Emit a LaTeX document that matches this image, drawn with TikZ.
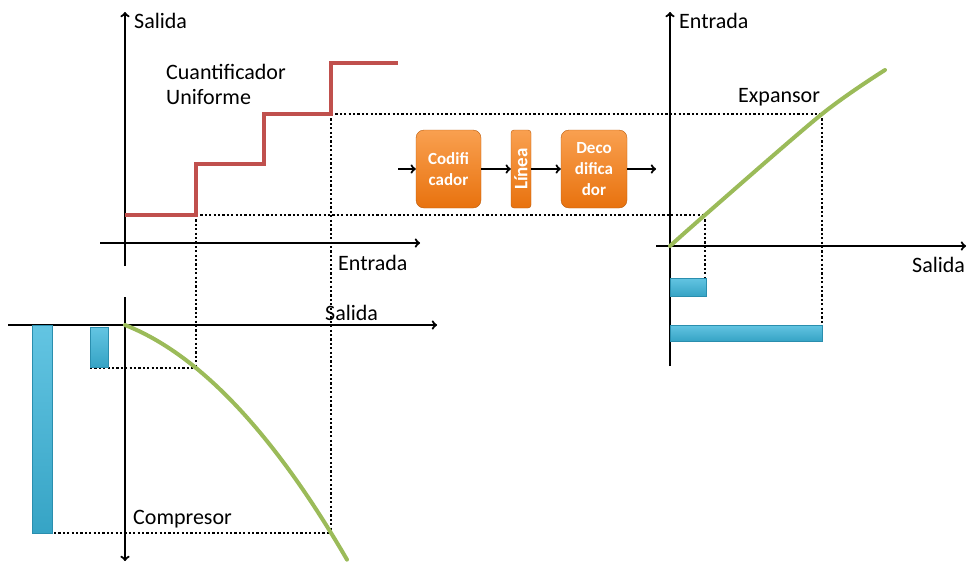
\documentclass[tikz,border=0pt]{standalone}
\usepackage{fontspec}
\setmainfont{Carlito}
\usetikzlibrary{positioning, arrows, calc}

\definecolor{rojo}{HTML}{C0504D}
\definecolor{verde}{HTML}{9BBB59}
\definecolor{naranja}{HTML}{F9A050}
\definecolor{naranjaosc}{HTML}{E8720E}
\definecolor{celeste}{HTML}{3CB6DB}
\definecolor{celesteosc}{HTML}{2A8EAE}

\tikzset{
  eje/.style={->, line width=2.2pt},
  flecha/.style={->, line width=2.2pt},
  punteado/.style={line width=2.6pt, dash pattern=on 2.2pt off 2.2pt},
  escalon/.style={rojo, line width=3.5pt},
  curva/.style={verde, line width=4pt, line cap=round},
  barra/.style={draw=celesteosc, top color=celeste!80!white, bottom color=celeste!90!black, line width=0.8pt},
  bloque/.style={rounded corners=8pt, top color=naranja, bottom color=naranjaosc,
    draw=naranjaosc!80!black, text=white, font=\bfseries\fontsize{17}{21}\selectfont, align=center,
    minimum height=78pt, inner sep=2pt},
  etiqueta/.style={font=\fontsize{22}{24}\selectfont, inner sep=0pt}
}

\begin{document}
\begin{tikzpicture}[x=1pt, y=-1pt]
\useasboundingbox (0,0) rectangle (968,563);

% puntos de referencia
\coordinate (pA) at (196,215);
\coordinate (pB) at (331,114);
\coordinate (cA) at (196,368);
\coordinate (cB) at (331,533);
\coordinate (eA) at (705,215);
\coordinate (eB) at (822,114);

% lineas punteadas
\draw[punteado] (pA) -- (eA);
\draw[punteado] (pB) -- (eB);
\draw[punteado] (pA) -- (cA);
\draw[punteado] (pB) -- (cB);
\draw[punteado] (90,368) -- (cA);
\draw[punteado] (32,533) -- (cB);
\draw[punteado] (eA) -- (705,296);
\draw[punteado] (eB) -- (822,340);

% cuantificador uniforme
\draw[eje] (125,266) -- (125,12);
\draw[eje] (100,243) -- (420,243);
\node[etiqueta, anchor=west] (salida1) at (134,21) {Salida};
\node[etiqueta, anchor=west] (entrada1) at (338,263) {Entrada};
\node[etiqueta, anchor=west] (cuant) at (166,72) {Cuantificador};
\node[etiqueta, anchor=west] (unif) at (166,97) {Uniforme};
\draw[escalon] (125,215) -| (196,164) -| (264,114) -| (331,63) -- (398,63);

% compresor
\draw[eje] (8,325) -- (437,325);
\draw[eje] (125,297) -- (125,561);
\node[etiqueta, anchor=west] (salida2) at (325,313) {Salida};
\node[etiqueta, anchor=west] (comp) at (133,519) {Compresor};
\draw[barra] (90,327) rectangle (108,367);
\draw[barra] (32,325) rectangle (52,533);
\draw[curva] plot[domain=0:222, samples=60] ({125+\x}, {325+0.393*\x+0.002993*\x*\x});

% expansor
\draw[eje] (670,366) -- (670,12);
\draw[eje] (656,246) -- (966,246);
\node[etiqueta, anchor=west] (entrada2) at (679,21) {Entrada};
\node[etiqueta, anchor=west] (salida3) at (912,265) {Salida};
\node[etiqueta, anchor=west] (expan) at (738,97) {Expansor};
\draw[barra] (670,278) rectangle (706,296);
\draw[barra] (670,325) rectangle (822,341);
\draw[curva] plot[smooth] coordinates {(670,246) (eA) (eB) (885,70)};

% cadena de transmision
\coordinate (ent) at (398,169);
\coordinate (sal) at (656,169);
\node[bloque, minimum width=65pt] (codif) at (448.5,169) {Codifi\\cador};
\node[bloque, minimum width=78pt, minimum height=20pt, rounded corners=3pt, rotate=90,
  font=\bfseries\fontsize{19}{20}\selectfont, inner sep=0pt] (linea) at (521,169) {Línea};
\node[bloque, minimum width=66pt] (decod) at (594,169) {Deco\\difica\\dor};
\draw[flecha] (ent) -- (codif);
\draw[flecha] (codif) -- (linea);
\draw[flecha] (linea) -- (decod);
\draw[flecha] (decod) -- (sal);
\end{tikzpicture}
\end{document}
